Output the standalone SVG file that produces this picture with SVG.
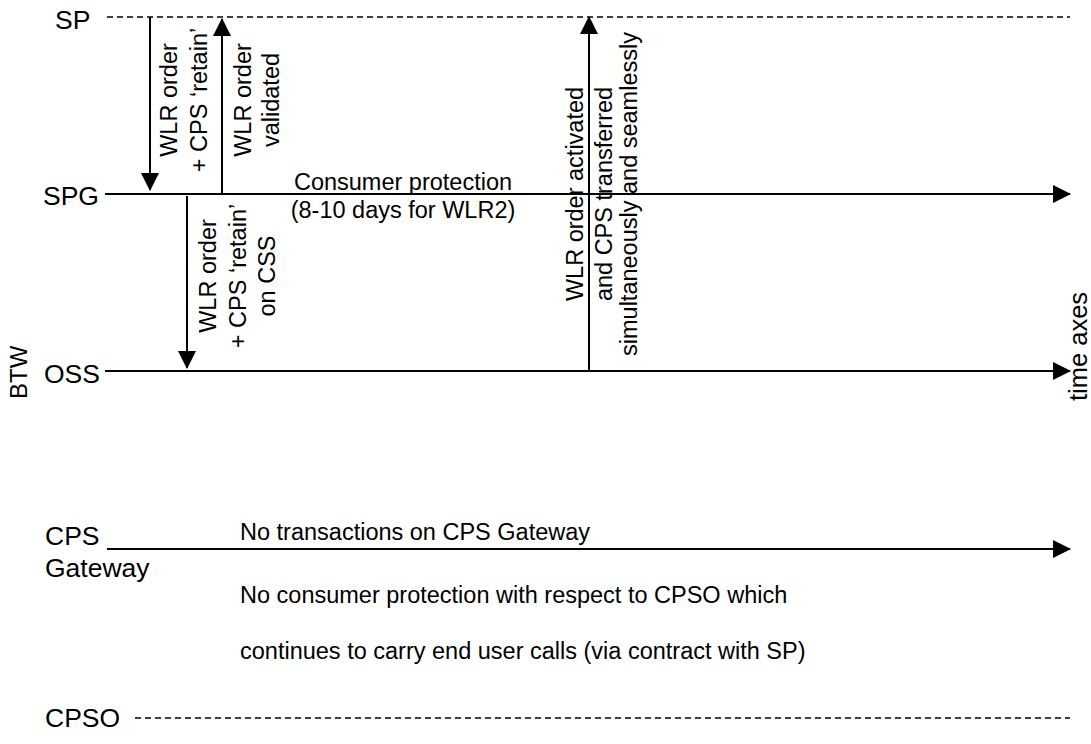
<svg xmlns="http://www.w3.org/2000/svg" width="1091" height="744" viewBox="0 0 1091 744">
  <style>
    text { font-family: "Liberation Sans", Arial, sans-serif; font-size: 23.5px; fill: #000; }
    .lane { font-size: 26.5px; }
    .mid { text-anchor: middle; }
    .axis { stroke: #000; stroke-width: 2; fill: none; }
    .dash { stroke: #000; stroke-width: 1.5; stroke-dasharray: 6 4; fill: none; }
    .msg { stroke: #000; stroke-width: 2; fill: none; }
  </style>
  <defs>
    <marker id="head" markerUnits="userSpaceOnUse" markerWidth="18" markerHeight="18" viewBox="0 0 18 18" refX="17" refY="9" orient="auto">
      <path d="M0,0 L18,9 L0,18 Z" fill="#000"/>
    </marker>
  </defs>
  <rect width="1091" height="744" fill="#fff"/>

  <!-- time lines -->
  <g id="lane-sp">
    <text class="lane" x="55" y="29">SP</text>
    <line class="dash" x1="107" y1="17" x2="1070" y2="17"/>
  </g>
  <g id="lane-spg">
    <text class="lane" x="43" y="205">SPG</text>
  </g>
  <g id="lane-oss">
    <text class="lane" x="44" y="383">OSS</text>
    <text transform="translate(27,399) rotate(-90)" style="font-size:24px">BTW</text>
  </g>
  <g id="lane-cps-gateway">
    <text class="lane" x="45" y="545">CPS</text>
    <text class="lane" x="45" y="577">Gateway</text>
    <text x="240" y="540">No transactions on CPS Gateway</text>
    <text x="240" y="603">No consumer protection with respect to CPSO which</text>
    <text x="240" y="659">continues to carry end user calls (via contract with SP)</text>
  </g>
  <g id="lane-cpso">
    <text class="lane" x="45" y="727">CPSO</text>
    <line class="dash" x1="135" y1="718" x2="1070" y2="718"/>
  </g>
  <g id="time-axes-label">
    <text transform="translate(1087,401) rotate(-90)" style="font-size:25.5px">time axes</text>
  </g>

  <!-- connectors -->
  <g id="connectors">
    <line class="axis" x1="105" y1="194" x2="1070" y2="194" marker-end="url(#head)"/>
    <line class="axis" x1="105" y1="371" x2="1070" y2="371" marker-end="url(#head)"/>
    <line class="axis" x1="107" y1="549" x2="1070" y2="549" marker-end="url(#head)"/>
    <line class="msg" x1="150" y1="17" x2="150" y2="190" marker-end="url(#head)"/>
    <line class="msg" x1="222" y1="194" x2="222" y2="19" marker-end="url(#head)"/>
    <line class="msg" x1="187" y1="196" x2="187" y2="368" marker-end="url(#head)"/>
    <line class="msg" x1="589" y1="371" x2="589" y2="17" marker-end="url(#head)"/>
  </g>

  <!-- message labels -->
  <g id="label-order">
    <text class="mid" transform="translate(177,100) rotate(-90)">WLR order</text>
    <text class="mid" transform="translate(207,100) rotate(-90)">+ CPS ‘retain’</text>
  </g>
  <g id="label-validated">
    <text class="mid" transform="translate(251,100) rotate(-90)">WLR order</text>
    <text class="mid" transform="translate(279,100) rotate(-90)">validated</text>
  </g>
  <g id="label-css">
    <text class="mid" transform="translate(216,276) rotate(-90)">WLR order</text>
    <text class="mid" transform="translate(246,276) rotate(-90)">+ CPS ‘retain’</text>
    <text class="mid" transform="translate(275,276) rotate(-90)">on CSS</text>
  </g>
  <g id="label-protection">
    <text class="mid" x="403" y="190">Consumer protection</text>
    <text class="mid" x="403" y="218">(8-10 days for WLR2)</text>
  </g>
  <g id="label-activated">
    <text class="mid" transform="translate(583,194) rotate(-90)">WLR order activated</text>
    <text class="mid" transform="translate(612,194) rotate(-90)">and CPS transferred</text>
    <text class="mid" transform="translate(637,194) rotate(-90)">simultaneously and seamlessly</text>
  </g>
</svg>
